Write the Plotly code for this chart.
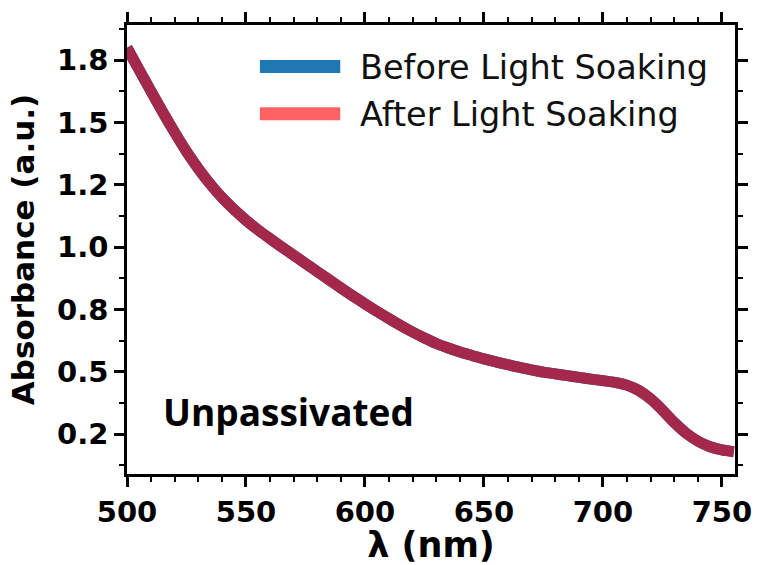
import plotly.graph_objects as go

# Absorption spectra of the unpassivated film
wavelength = [500, 505, 510, 515, 520, 525, 530, 535, 540, 545, 550, 555, 560, 565,
              570, 575, 580, 585, 590, 595, 600, 605, 610, 615, 620, 625, 630, 635,
              640, 645, 650, 655, 660, 665, 670, 675, 680, 685, 690, 695, 700, 705,
              710, 715, 720, 725, 730, 735, 740, 745, 750, 755]
abs_before = [1.800, 1.713, 1.627, 1.542, 1.461, 1.384, 1.315, 1.253, 1.198, 1.151,
              1.108, 1.070, 1.035, 1.001, 0.968, 0.935, 0.902, 0.869, 0.836, 0.804,
              0.773, 0.743, 0.714, 0.686, 0.660, 0.636, 0.614, 0.596, 0.580, 0.566,
              0.552, 0.540, 0.529, 0.518, 0.508, 0.499, 0.492, 0.485, 0.478, 0.471,
              0.465, 0.458, 0.447, 0.426, 0.392, 0.347, 0.297, 0.254, 0.222, 0.200,
              0.187, 0.180]
abs_after = [1.800, 1.713, 1.627, 1.542, 1.461, 1.384, 1.315, 1.253, 1.198, 1.151,
             1.108, 1.070, 1.035, 1.001, 0.968, 0.935, 0.902, 0.869, 0.836, 0.804,
             0.773, 0.743, 0.714, 0.686, 0.660, 0.636, 0.614, 0.596, 0.580, 0.566,
             0.552, 0.540, 0.529, 0.518, 0.508, 0.499, 0.492, 0.485, 0.478, 0.471,
             0.465, 0.458, 0.447, 0.426, 0.392, 0.347, 0.297, 0.254, 0.222, 0.200,
             0.187, 0.180]

y_tickvals = [0.25, 0.5, 0.75, 1.0, 1.25, 1.5, 1.75]
y_ticktext = ["0.2", "0.5", "0.8", "1.0", "1.2", "1.5", "1.8"]
x_tickvals = [500, 550, 600, 650, 700, 750]

series_names = ["Before Light Soaking", "After Light Soaking"]
legend_colors = ["#1f77b4", "#ff6262"]
overlap_color = "#a4284b"

fig = go.Figure()
fig.add_trace(go.Scatter(x=wavelength, y=abs_before, mode="lines", name=series_names[0],
                         line=dict(color=legend_colors[0], width=11, shape="spline",
                                   smoothing=0.8),
                         showlegend=False))
fig.add_trace(go.Scatter(x=wavelength, y=abs_after, mode="lines", name=series_names[1],
                         line=dict(color=overlap_color, width=11, shape="spline",
                                   smoothing=0.8),
                         showlegend=False))

# legend drawn by hand: long thick swatches plus labels
L, R, T, B = 127, 740, 22, 477
def px_x(p):
    return (p - L) / (R - L)
def px_y(p):
    return (B - p) / (B - T)

for i, (name, col) in enumerate(zip(series_names, legend_colors)):
    yc = 64 + i * 48
    fig.add_shape(type="line", xref="paper", yref="paper",
                  x0=px_x(261), x1=px_x(342), y0=px_y(yc), y1=px_y(yc),
                  line=dict(color=col, width=13))
    fig.add_annotation(x=px_x(360), y=px_y(yc + 1), xref="paper", yref="paper",
                       text=name, showarrow=False, xanchor="left", yanchor="middle",
                       font=dict(family="DejaVu Sans", size=33.5, color="#111111"))

fig.add_annotation(x=px_x(161), y=px_y(414), xref="paper", yref="paper",
                   text="<b>Unpassivated</b>", showarrow=False, xanchor="left",
                   yanchor="middle",
                   font=dict(family="Open Sans", size=37, color="#000000"))

axis_common = dict(showline=True, linecolor="black", linewidth=2.5, mirror="ticks",
                   ticks="outside", ticklen=10, tickwidth=2.5, tickcolor="black",
                   showgrid=False, zeroline=False,
                   tickfont=dict(family="DejaVu Sans", size=29, color="black", weight="bold"))

fig.update_xaxes(range=[500, 755.5], tickvals=x_tickvals,
                 minor=dict(dtick=10, ticks="outside", ticklen=5, tickwidth=2, tickcolor="black",
                            showgrid=False),
                 title=dict(text="λ (nm)", standoff=0,
                            font=dict(family="DejaVu Sans", size=35, color="black", weight="bold")),
                 **axis_common)
fig.update_yaxes(range=[0.0906, 1.891], tickvals=y_tickvals, ticktext=y_ticktext,
                 minor=dict(tickvals=[0.125, 0.375, 0.625, 0.875, 1.125, 1.375, 1.625, 1.875],
                            ticks="outside", ticklen=5, tickwidth=2, tickcolor="black",
                            showgrid=False),
                 ticklabelstandoff=0,
                 title=dict(text="Absorbance (a.u.)", standoff=14,
                            font=dict(family="DejaVu Sans", size=31, color="black", weight="bold")),
                 **axis_common)

fig.update_layout(width=764, height=565, margin=dict(l=L, r=764 - R, t=T, b=565 - B),
                  plot_bgcolor="white", paper_bgcolor="white", showlegend=False)

fig.write_html("out.html")
